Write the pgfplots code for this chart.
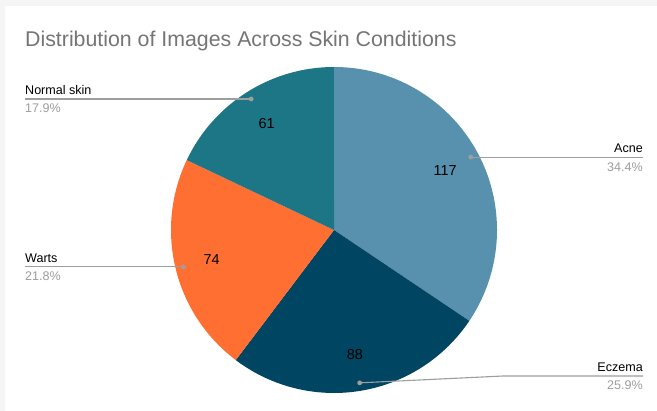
\documentclass[border=0pt]{standalone}
\usepackage{pgfplots}
\usepackage{pgfplotstable}
\pgfplotsset{compat=1.18}
\usetikzlibrary{calc}
\usepackage{fontspec}
\setmainfont{Liberation Sans}

\definecolor{cAcne}{RGB}{88,145,173}
\definecolor{cEczema}{RGB}{0,69,97}
\definecolor{cWarts}{RGB}{255,111,49}
\definecolor{cNormal}{RGB}{28,118,133}
\definecolor{titlegray}{RGB}{117,117,117}
\definecolor{pctgray}{RGB}{158,158,158}
\definecolor{leadgray}{RGB}{158,158,158}
\definecolor{bggray}{RGB}{245,245,245}

% images per condition
\pgfplotstableread[col sep=comma]{
name,value
Acne,117
Eczema,88
Warts,74
Normal skin,61
}\skindata

\newcommand\pct[1]{\pgfmathprintnumber[fixed,fixed zerofill,precision=1,assume math mode=true]{#1}\%}

\begin{document}
\begin{tikzpicture}
% pull the four values out of the table and turn them into angles
\pgfplotstablegetelem{0}{value}\of\skindata \let\vA\pgfplotsretval
\pgfplotstablegetelem{1}{value}\of\skindata \let\vB\pgfplotsretval
\pgfplotstablegetelem{2}{value}\of\skindata \let\vC\pgfplotsretval
\pgfplotstablegetelem{3}{value}\of\skindata \let\vD\pgfplotsretval
\pgfmathsetmacro\total{\vA+\vB+\vC+\vD}
\pgfmathsetmacro\aA{90}
\pgfmathsetmacro\aB{\aA-360*(\vA/\total)}
\pgfmathsetmacro\aC{\aB-360*(\vB/\total)}
\pgfmathsetmacro\aD{\aC-360*(\vC/\total)}
\pgfmathsetmacro\aE{\aD-360*(\vD/\total)}
\pgfmathsetmacro\mA{(\aA+\aB)/2}
\pgfmathsetmacro\mB{(\aB+\aC)/2}
\pgfmathsetmacro\mC{(\aC+\aD)/2}
\pgfmathsetmacro\mD{(\aD+\aE)/2}
\pgfmathsetmacro\pA{100*(\vA/\total)}
\pgfmathsetmacro\pB{100*(\vB/\total)}
\pgfmathsetmacro\pC{100*(\vC/\total)}
\pgfmathsetmacro\pD{100*(\vD/\total)}
\def\cx{334}\def\cy{181}\def\R{163}
\begin{axis}[
    name=ax,
    scale only axis, width=657bp, height=411bp,
    xmin=0, xmax=657, ymin=0, ymax=411,
    hide axis, clip=false,
]
% card
\fill[bggray] (axis cs:0,0) rectangle (axis cs:657,411);
\fill[white] (axis cs:5,0) rectangle (axis cs:657,405);

\node[anchor=base west, inner sep=0pt, font=\fontsize{21.4}{24}\selectfont, text=titlegray]
    at (axis cs:25,364) {Distribution of Images Across Skin Conditions};

% slices
\fill[cAcne]   (axis cs:\cx,\cy) -- ++(\aA:\R bp) arc[start angle=\aA, end angle=\aB, radius=\R bp] -- cycle;
\fill[cEczema] (axis cs:\cx,\cy) -- ++(\aB:\R bp) arc[start angle=\aB, end angle=\aC, radius=\R bp] -- cycle;
\fill[cWarts]  (axis cs:\cx,\cy) -- ++(\aC:\R bp) arc[start angle=\aC, end angle=\aD, radius=\R bp] -- cycle;
\fill[cNormal] (axis cs:\cx,\cy) -- ++(\aD:\R bp) arc[start angle=\aD, end angle=\aE, radius=\R bp] -- cycle;

% values inside
\begin{scope}[every node/.append style={inner sep=0pt, font=\fontsize{14.5}{16}\selectfont, text=black}]
\node at ($(axis cs:\cx,\cy)+(\mA:126bp)$) {\vA};
\node at ($(axis cs:\cx,\cy)+(\mB:126bp)$) {\vB};
\node at ($(axis cs:\cx,\cy)+(\mC:126bp)$) {\vC};
\node at ($(axis cs:\cx,\cy)+(\mD:126bp)$) {\vD};
\end{scope}

% leader lines
\begin{scope}[leadgray, line width=1.1bp]
\coordinate (dA) at ($(axis cs:\cx,\cy)+(\mA:155bp)$);
\coordinate (dB) at ($(axis cs:\cx,\cy)+(\mB:155bp)$);
\coordinate (dC) at ($(axis cs:\cx,\cy)+(\mC:155bp)$);
\coordinate (dD) at ($(axis cs:\cx,\cy)+(\mD:155bp)$);
\coordinate (rA) at (dA -| {axis cs:643,0});
\coordinate (rB) at (axis cs:643,35);
\coordinate (lC) at (dC -| {axis cs:25,0});
\coordinate (lD) at (dD -| {axis cs:25,0});
\fill (dA) circle[radius=2.4bp]; \fill (dB) circle[radius=2.4bp];
\fill (dC) circle[radius=2.4bp]; \fill (dD) circle[radius=2.4bp];
\draw (dA) -- (rA);
\draw (dB) -- (axis cs:503,35) -- (rB);
\draw (dC) -- (lC);
\draw (dD) -- (lD);
\end{scope}

\begin{scope}[every node/.append style={inner sep=0pt, font=\fontsize{12.6}{14}\selectfont}]
\node[anchor=base east] at ($(rA)+(0,4.5bp)$) {Acne};
\node[anchor=base east, text=pctgray] at ($(rA)+(0,-14bp)$) {\pct{\pA}};
\node[anchor=base east] at ($(rB)+(0,4.5bp)$) {Eczema};
\node[anchor=base east, text=pctgray] at ($(rB)+(0,-14bp)$) {\pct{\pB}};
\node[anchor=base west] at ($(lC)+(0,4.5bp)$) {Warts};
\node[anchor=base west, text=pctgray] at ($(lC)+(0,-14bp)$) {\pct{\pC}};
\node[anchor=base west] at ($(lD)+(0,4.5bp)$) {Normal skin};
\node[anchor=base west, text=pctgray] at ($(lD)+(0,-14bp)$) {\pct{\pD}};
\end{scope}
\end{axis}
\pgfresetboundingbox
\path[use as bounding box] (ax.south west) rectangle (ax.north east);
\end{tikzpicture}
\end{document}
